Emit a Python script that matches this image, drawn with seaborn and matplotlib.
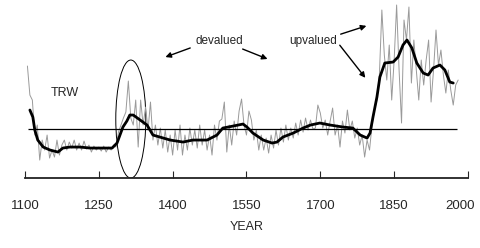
import matplotlib
matplotlib.use("Agg")
import matplotlib.pyplot as plt
import matplotlib.transforms as mtransforms
import seaborn as sns
import pandas as pd
from matplotlib.patches import Ellipse

# raw tree-ring width index (read every 5 years)
raw_years = list(range(1105, 1985, 5))
raw_trw = [226, 168, 158, 88, 108, 38, 78, 58, 88, 42,
           58, 44, 78, 48, 68, 78, 58, 74, 62, 78,
           58, 72, 58, 76, 60, 68, 54, 66, 58, 64,
           56, 66, 54, 64, 58, 68, 64, 94, 108, 122,
           134, 196, 122, 108, 158, 64, 158, 108, 144, 98,
           154, 78, 108, 68, 102, 62, 98, 54, 88, 48,
           98, 58, 108, 48, 88, 58, 102, 68, 98, 62,
           108, 68, 98, 58, 88, 48, 108, 78, 116, 120,
           154, 54, 108, 68, 116, 88, 136, 160, 108, 88,
           136, 118, 78, 98, 58, 88, 58, 82, 52, 88,
           62, 98, 68, 102, 74, 108, 78, 102, 82, 112,
           88, 118, 94, 122, 98, 118, 100, 102, 148, 132,
           102, 118, 88, 116, 142, 88, 108, 64, 116, 92,
           138, 98, 116, 82, 102, 68, 88, 44, 78, 58,
           108, 138, 158, 208, 338, 248, 198, 268, 158, 238,
           348, 218, 112, 318, 278, 344, 192, 278, 218, 158,
           238, 188, 238, 278, 154, 218, 298, 228, 258, 208,
           172, 218, 178, 148, 188, 198]

# smoothed curve
smooth_years = [1110, 1116, 1120, 1126, 1137, 1151, 1167, 1177, 1191, 1212,
                1232, 1252, 1277, 1287, 1293, 1299, 1307, 1313, 1320, 1334,
                1348, 1360, 1374, 1395, 1421, 1441, 1470, 1490, 1502, 1523,
                1543, 1551, 1563, 1584, 1602, 1612, 1624, 1645, 1665, 1680,
                1699, 1720, 1746, 1766, 1781, 1795, 1801, 1807, 1815, 1821,
                1831, 1848, 1858, 1868, 1876, 1886, 1896, 1909, 1919, 1929,
                1943, 1953, 1963, 1970]
smooth_trw = [138, 124, 98, 78, 64, 58, 54, 62, 64, 64,
              62, 62, 62, 72, 88, 104, 116, 128, 128, 118,
              108, 88, 84, 78, 74, 78, 78, 88, 102, 106,
              110, 104, 92, 78, 72, 74, 84, 92, 102, 108,
              112, 108, 104, 102, 88, 82, 92, 124, 164, 204,
              232, 234, 244, 268, 278, 262, 232, 212, 208, 222,
              228, 218, 194, 192]

x_ticks = [1100, 1250, 1400, 1550, 1700, 1850, 2000]
mean_level = 100

raw_df = pd.DataFrame({"year": raw_years, "trw": raw_trw})
smooth_df = pd.DataFrame({"year": smooth_years, "trw": smooth_trw})

sns.set_style("white")
narrow = ["Liberation Sans Narrow", "Liberation Sans", "DejaVu Sans"]
plt.rcParams["font.family"] = narrow

fig = plt.figure(figsize=(4.8, 2.48), dpi=100)
ax = fig.add_axes([0.052, 0.282, 0.923, 0.718])

sns.lineplot(data=raw_df, x="year", y="trw", ax=ax, color="#9a9a9a", linewidth=0.7)
sns.lineplot(data=smooth_df, x="year", y="trw", ax=ax, color="black", linewidth=2.0)
ax.hlines(mean_level, 1106, 1978, color="black", linewidth=0.9)

ax.add_patch(Ellipse((1315, 120), 61, 236, fill=False, edgecolor="black", linewidth=0.7))

ax.set_xlim(1100, 2000)
ax.set_ylim(2, 358)
ax.set_xticks(x_ticks)
ax.set_xticklabels([str(t) for t in x_ticks], fontsize=9.5)
ax.set_yticks([])
ax.set_ylabel("")
ax.set_xlabel("YEAR", fontsize=9, labelpad=6)
for s in ["left", "right", "top"]:
    ax.spines[s].set_visible(False)
ax.spines["bottom"].set_linewidth(1.3)
ax.spines["bottom"].set_color("#222222")
ax.tick_params(axis="x", direction="in", length=5, width=0.8, pad=16, bottom=True)

last = ax.get_xticklabels()[-1]
last.set_transform(last.get_transform() +
                   mtransforms.ScaledTranslation(-6 / 72, 0, fig.dpi_scale_trans))

ax.text(1181, 172, "TRW", fontsize=9, ha="center", va="center")
ax.text(1494, 276, "devalued", fontsize=8.5, ha="center", va="center")
ax.text(1685, 276, "upvalued", fontsize=8.5, ha="center", va="center")

arr = dict(arrowstyle="-|>", color="black", lw=1.0, mutation_scale=8)
ax.annotate("", xy=(1380, 242), xytext=(1441, 264), arrowprops=arr)
ax.annotate("", xy=(1598, 238), xytext=(1537, 262), arrowprops=arr)
ax.annotate("", xy=(1799, 308), xytext=(1736, 288), arrowprops=arr)
ax.annotate("", xy=(1795, 198), xytext=(1736, 272), arrowprops=arr)

fig.savefig("out.png", dpi=100, facecolor="white")
